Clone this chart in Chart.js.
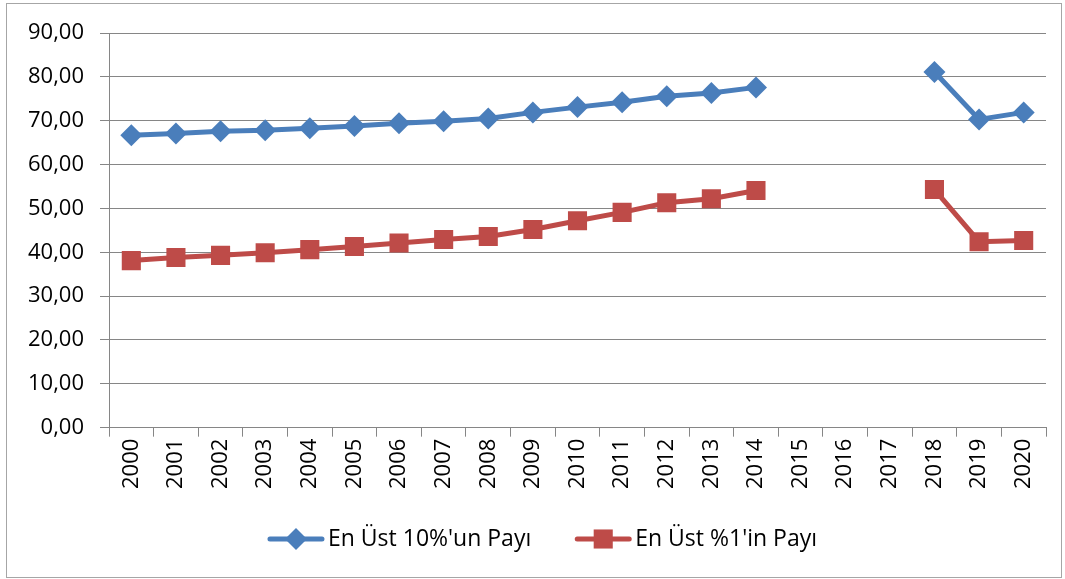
<!DOCTYPE html>
<html>
<head>
<meta charset="utf-8">
<script src="https://cdn.jsdelivr.net/npm/chart.js@4.4.1/dist/chart.umd.min.js"></script>
<style>
  body { margin: 0; background: #ffffff; }
  canvas { display: block; }
</style>
</head>
<body>
<canvas id="chart" width="1065" height="579"></canvas>
<script>
// Years on the x axis (2015-2017 have no data)
const years = ['2000', '2001', '2002', '2003', '2004', '2005', '2006', '2007', '2008', '2009',
    '2010', '2011', '2012', '2013', '2014', '2015', '2016', '2017', '2018', '2019', '2020']

const top10_share = [66.7, 67.1, 67.6, 67.8, 68.3, 68.8, 69.4, 69.9, 70.5, 71.9,
    73.1, 74.2, 75.6, 76.3, 77.6, null, null, null, 81.1, 70.3, 71.9]

const top1_share = [38.1, 38.8, 39.3, 39.9, 40.6, 41.3, 42.1, 42.9, 43.6, 45.2,
    47.2, 49.1, 51.3, 52.2, 54.1, null, null, null, 54.3, 42.4, 42.7]

const series_names = ["En Üst 10%'un Payı", "En Üst %1'in Payı"]

const y_max = 90
const y_step = 10

const blue = '#4a7ebb'
const red = '#be4b48'
const grid_color = '#868686'
const font_family = '"Open Sans", "Liberation Sans", sans-serif'

function format_tick(value) {
    return value.toFixed(2).replace('.', ',')
}

// Excel-like legend: a short line with the marker in its middle, then the text
const line_legend = {
    id: 'line_legend',
    afterDraw(chart) {
        const ctx = chart.ctx
        ctx.save()
        ctx.font = '23px ' + font_family
        ctx.textBaseline = 'middle'
        const sample_width = 56
        const text_gap = 4
        const item_gap = 44
        const items = chart.data.datasets.map(ds => ({
            ds: ds,
            width: sample_width + text_gap + ctx.measureText(ds.label).width
        }))
        const total = items.reduce((s, it) => s + it.width, 0) + item_gap * (items.length - 1)
        let x = chart.width / 2 - total / 2 + 10
        const y = 539
        items.forEach(it => {
            const ds = it.ds
            ctx.strokeStyle = ds.borderColor
            ctx.lineWidth = ds.borderWidth
            ctx.lineCap = 'round'
            ctx.beginPath()
            ctx.moveTo(x + 2, y)
            ctx.lineTo(x + sample_width - 2, y)
            ctx.stroke()
            ctx.fillStyle = ds.pointBackgroundColor
            Chart.helpers.drawPoint(ctx, {
                pointStyle: ds.pointStyle,
                radius: ds.pointRadius,
                rotation: 0,
                borderWidth: 0
            }, x + sample_width / 2, y)
            ctx.fillStyle = '#000000'
            ctx.fillText(ds.label, x + sample_width + text_gap, y)
            x += it.width + item_gap
        })
        ctx.restore()
    },
    beforeDraw(chart) {
        const ctx = chart.ctx
        ctx.save()
        ctx.fillStyle = '#ffffff'
        ctx.fillRect(0, 0, chart.width, chart.height)
        ctx.strokeStyle = '#a6a6a6'
        ctx.lineWidth = 1
        ctx.strokeRect(6.5, 3.5, chart.width - 10, chart.height - 5)
        ctx.restore()
    }
}

new Chart(document.getElementById('chart').getContext('2d'), {
    type: 'line',
    data: {
        labels: years,
        datasets: [
            {
                label: series_names[0],
                data: top10_share,
                borderColor: blue,
                backgroundColor: blue,
                pointBackgroundColor: blue,
                pointBorderWidth: 0,
                borderWidth: 5,
                pointStyle: 'rectRot',
                pointRadius: 11,
                spanGaps: false,
                tension: 0
            },
            {
                label: series_names[1],
                data: top1_share,
                borderColor: red,
                backgroundColor: red,
                pointBackgroundColor: red,
                pointBorderWidth: 0,
                borderWidth: 5,
                pointStyle: 'rect',
                pointRadius: 13.5,
                spanGaps: false,
                tension: 0
            }
        ]
    },
    plugins: [line_legend],
    options: {
        responsive: false,
        animation: false,
        layout: { padding: { left: 12, right: 19, top: 33, bottom: 88 } },
        plugins: {
            legend: { display: false },
            tooltip: { enabled: false }
        },
        scales: {
            x: {
                offset: true,
                grid: {
                    offset: true,
                    drawOnChartArea: false,
                    color: grid_color,
                    tickLength: 9
                },
                border: { color: grid_color, width: 1 },
                ticks: {
                    color: '#000000',
                    font: { family: font_family, size: 22 },
                    minRotation: 90,
                    maxRotation: 90,
                    padding: 2,
                    autoSkip: false
                }
            },
            y: {
                min: 0,
                max: y_max,
                grid: {
                    color: grid_color,
                    tickLength: 9
                },
                border: { color: grid_color, width: 1 },
                ticks: {
                    stepSize: y_step,
                    color: '#000000',
                    font: { family: font_family, size: 22 },
                    padding: 16,
                    callback: value => format_tick(value)
                }
            }
        }
    }
})
</script>
</body>
</html>
